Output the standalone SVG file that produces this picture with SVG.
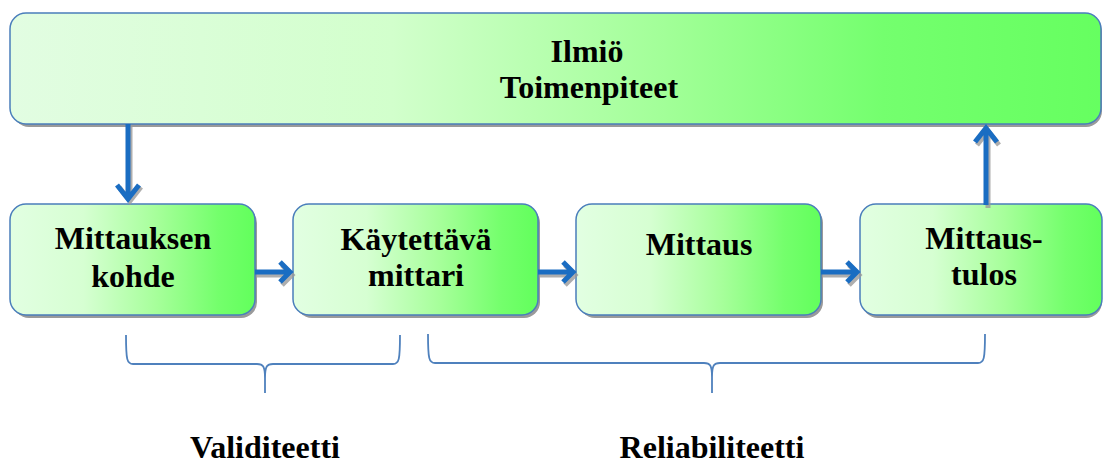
<svg xmlns="http://www.w3.org/2000/svg" width="1104" height="465" viewBox="0 0 1104 465">
<defs>
<linearGradient id="gTop" x1="0" y1="0" x2="1" y2="0">
<stop offset="0" stop-color="#e2fde2"/>
<stop offset="0.35" stop-color="#d2ffcc"/>
<stop offset="0.6" stop-color="#a2ff98"/>
<stop offset="0.8" stop-color="#74ff6e"/>
<stop offset="1" stop-color="#66ff60"/>
</linearGradient>
<linearGradient id="gBox" x1="0" y1="0" x2="1" y2="0">
<stop offset="0" stop-color="#e2ffe2"/>
<stop offset="0.3" stop-color="#d6ffd2"/>
<stop offset="0.6" stop-color="#a6ff9a"/>
<stop offset="0.85" stop-color="#74ff6c"/>
<stop offset="1" stop-color="#62ff5c"/>
</linearGradient>
</defs>
<style>
.shadow{fill:#9a9a9a}
.box{stroke:#4a7ebb;stroke-width:1.5}
.lbl{font-family:'Liberation Serif','DejaVu Serif',serif;font-weight:bold;font-size:32px;fill:#000;text-anchor:middle}
.arr{fill:none;stroke:#1a6dc2;stroke-width:5;stroke-linejoin:miter}
.arrs{fill:none;stroke:#9a9a9a;stroke-width:5;opacity:0.8}
.brace{fill:none;stroke:#4f81bd;stroke-width:1.8}
</style>
<g id="top">
<rect class="shadow" x="13" y="16" width="1089" height="111" rx="16"/>
<rect class="box" x="10" y="13" width="1091" height="111" rx="16" fill="url(#gTop)"/>
<text class="lbl" font-family="Liberation Serif, serif" x="587" y="62">Ilmiö</text>
<text class="lbl" font-family="Liberation Serif, serif" x="589" y="98">Toimenpiteet</text>
</g>
<g id="n1">
<rect class="shadow" x="13" y="207" width="244" height="111" rx="16"/>
<rect class="box" x="10" y="204" width="245" height="111" rx="16" fill="url(#gBox)"/>
<text class="lbl" x="133" y="249">Mittauksen</text>
<text class="lbl" x="133" y="287">kohde</text>
</g>
<g id="n2">
<rect class="shadow" x="296" y="207" width="244" height="111" rx="16"/>
<rect class="box" x="293" y="204" width="245" height="111" rx="16" fill="url(#gBox)"/>
<text class="lbl" x="416" y="250">Käytettävä</text>
<text class="lbl" x="416" y="286">mittari</text>
</g>
<g id="n3">
<rect class="shadow" x="579" y="207" width="244" height="111" rx="16"/>
<rect class="box" x="576" y="204" width="245" height="111" rx="16" fill="url(#gBox)"/>
<text class="lbl" x="699" y="255">Mittaus</text>
</g>
<g id="n4">
<rect class="shadow" x="862" y="207" width="240" height="111" rx="16"/>
<rect class="box" x="860" y="204" width="242" height="111" rx="16" fill="url(#gBox)"/>
<text class="lbl" x="984" y="249">Mittaus-</text>
<text class="lbl" x="984" y="285">tulos</text>
</g>
<g id="connectors">
<path class="arrs" d="M130,127 V201 M119,187 L130,201 L141,187"/>
<path class="arr" d="M128,124 V199 M117,185 L128,199 L139,185"/>
<path class="arrs" d="M257,275 H292 M282,265 L292,275 L282,285"/>
<path class="arr" d="M255,272 H290 M280,262 L290,272 L280,282"/>
<path class="arrs" d="M540,275 H575 M565,265 L575,275 L565,285"/>
<path class="arr" d="M538,272 H573 M563,262 L573,272 L563,282"/>
<path class="arrs" d="M823,275 H859 M849,265 L859,275 L849,285"/>
<path class="arr" d="M821,272 H857 M847,262 L857,272 L847,282"/>
<path class="arrs" d="M988,208 V131 M977,145 L988,131 L999,145"/>
<path class="arr" d="M986,205 V128 M975,142 L986,128 L997,142"/>
</g>
<g id="braces">
<path class="brace" d="M126,335 C126,360 127,364 133,364 L257,364 C263,364 265,366 265,378 L265,393 M400,335 C400,360 399,364 393,364 L273,364 C267,364 265,366 265,378"/>
<path class="brace" d="M428,334 C428,359 429,363 435,363 L704,363 C710,363 712,365 712,377 L712,393 M985,334 C985,359 984,363 978,363 L720,363 C714,363 712,365 712,377"/>
</g>
<g id="labels">
<text class="lbl" x="265" y="458">Validiteetti</text>
<text class="lbl" x="712" y="458">Reliabiliteetti</text>
</g>
</svg>
